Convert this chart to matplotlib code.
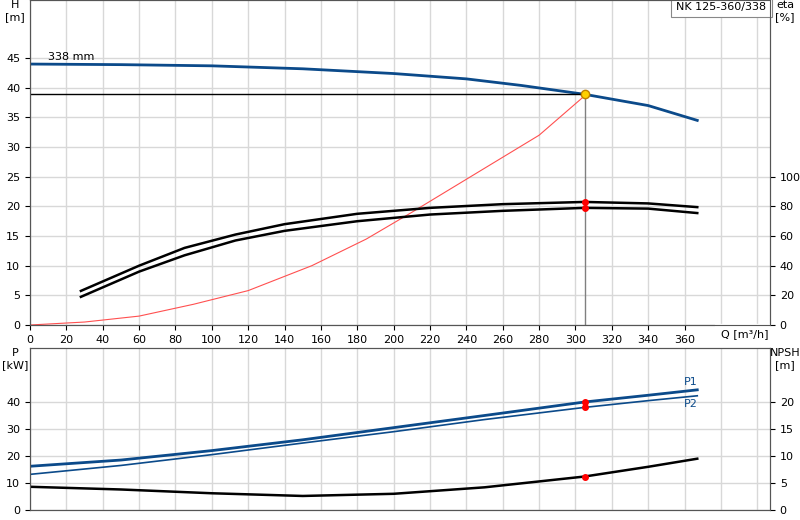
import matplotlib.pyplot as plt
import numpy as np

# data
q_h = [0, 50, 100, 150, 200, 240, 270, 305, 340, 367]
h = [44.0, 43.9, 43.7, 43.2, 42.4, 41.5, 40.4, 38.9, 37.0, 34.5]
q_eta = [28, 60, 85, 113, 140, 180, 220, 260, 305, 340, 367]
eta1 = [23, 40, 52, 61, 68, 75, 79, 81.5, 83, 82, 79.5]
eta2 = [19, 36, 47, 57, 63.5, 70, 74.5, 77, 79, 78.5, 75.5]
q_sys = [0, 30, 60, 90, 120, 155, 185, 210, 245, 280, 306]
h_sys = [0, 0.5, 1.5, 3.5, 5.8, 10, 14.5, 19, 25.5, 32, 38.9]
q_p = [0, 50, 100, 150, 200, 250, 305, 340, 367]
p1 = [16.2, 18.5, 22, 26, 30.5, 35, 40, 42.5, 44.5]
p2 = [13.2, 16.5, 20.5, 24.8, 29, 33.5, 38, 40.5, 42.3]
npsh = [4.3, 3.8, 3.1, 2.6, 3.0, 4.2, 6.2, 8.0, 9.5]
q_op, h_op = 305, 38.9
q_ticks = list(range(0, 361, 20))

blue = '#0b4a8a'
plt.rcParams['font.size'] = 8
fig = plt.figure(figsize=(8, 5.2), dpi=100)
ax = fig.add_axes([30/800, 1-325/520, 740/800, 325/520])
ax.plot(q_h, h, color=blue, lw=2)
ax.plot([0, q_op], [h_op, h_op], color='black', lw=1)
ax.plot([q_op, q_op], [0, h_op], color='gray', lw=1)
ax.plot(q_sys, h_sys, color='#ff5050', lw=0.8)
ax.plot(q_op, h_op, 'o', color='#ffd000', mec='#c08000', ms=6, zorder=5)
ax2 = ax.twinx()
ax2.plot(q_eta, eta1, color='black', lw=1.8)
ax2.plot(q_eta, eta2, color='black', lw=1.8)
ax2.plot([q_op, q_op], [np.interp(q_op, q_eta, eta1), np.interp(q_op, q_eta, eta2)], 'o', color='red', ms=4)
ax.set_xlim(0, 407)
ax.set_ylim(0, 54.8)
ax2.set_ylim(0, 54.8*4)
ax.set_xticks(q_ticks + [380, 400])
ax.set_xticklabels([str(v) for v in q_ticks] + ['', ''])
ax.set_yticks(range(0, 50, 5))
ax2.set_yticks(range(0, 101, 20))
ax.grid(True, color='#d8d8d8', lw=1)
ax.text(-15/740, 1.0, 'H\n[m]', transform=ax.transAxes, ha='center', va='top')
ax2.text(1 + 15/740, 1.0, 'eta\n[%]', transform=ax.transAxes, ha='center', va='top')
ax.text(10, 44.6, '338 mm')
ax.text(380, -1.6, 'Q [m³/h]', ha='left', va='center', backgroundcolor='white')
ax.text(0.995, 0.995, 'NK 125-360/338', transform=ax.transAxes, ha='right', va='top',
        bbox=dict(fc='white', ec='#888888', lw=0.8))

bx = fig.add_axes([30/800, 1-510/520, 740/800, 162/520])
bx.plot(q_p, p1, color=blue, lw=2)
bx.plot(q_p, p2, color=blue, lw=1.2)
bx.plot([q_op, q_op], [np.interp(q_op, q_p, p1), np.interp(q_op, q_p, p2)], 'o', color='red', ms=4)
bx.text(367, 45.5, 'P1', color=blue, ha='right', va='bottom')
bx.text(367, 41, 'P2', color=blue, ha='right', va='top')
bx2 = bx.twinx()
bx2.plot(q_p, npsh, color='black', lw=1.8)
bx2.plot(q_op, np.interp(q_op, q_p, npsh), 'o', color='red', ms=4)
bx.set_xlim(0, 407)
bx.set_ylim(0, 60)
bx2.set_ylim(0, 30)
bx.set_xticks(range(0, 407, 20))
bx.set_xticklabels([])
bx.tick_params(axis='x', length=0)
bx.set_yticks(range(0, 50, 10))
bx2.set_yticks(range(0, 25, 5))
bx.grid(True, color='#d8d8d8', lw=1)
bx.text(-15/740, 1.0, 'P\n[kW]', transform=bx.transAxes, ha='center', va='top')
bx2.text(1 + 15/740, 1.0, 'NPSH\n[m]', transform=bx.transAxes, ha='center', va='top')
for a in (ax, ax2, bx, bx2):
    for s in a.spines.values():
        s.set_color('#555555')
fig.savefig('out.png')
